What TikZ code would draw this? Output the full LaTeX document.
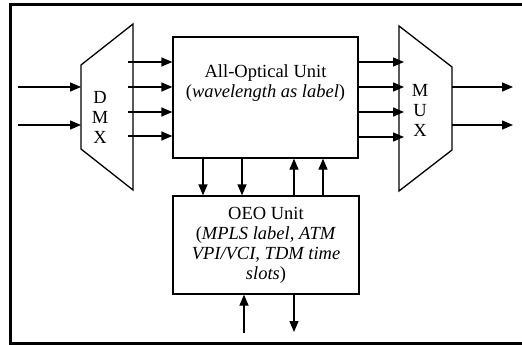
\documentclass[tikz,border=0pt]{standalone}
\usepackage{fontspec}
\setmainfont{Liberation Serif}
\usetikzlibrary{arrows.meta}
\tikzset{
	wire/.style={line width=1.3pt, -{Triangle[length=11pt, width=9pt]}},
	unitbox/.style={draw, line width=1.3pt, inner sep=0pt},
	txt/.style={align=center, font=\fontsize{18.5}{20}\selectfont},
}
\begin{document}
\begin{tikzpicture}[x=1pt, y=-1pt]
	\useasboundingbox (0,0) rectangle (522,345);
	% Frame:
	\draw[line width=3pt] (522,5) -- (10,5) -- (10,343) -- (522,343);
	% Units:
	\node[unitbox, minimum width=185pt, minimum height=121pt](opt) at (265.5, 97.5){};
	\node[txt](optlbl) at (265.5, 83){All-Optical Unit\\(\textit{wavelength as label})};
	\node[unitbox, txt, minimum width=186pt, minimum height=98pt](oeo) at (266, 245){OEO Unit\\(\textit{MPLS label, ATM}\\\textit{VPI/VCI, TDM time}\\\textit{slots})};
	% DMX and MUX:
	\draw[line width=1.3pt] (81, 65) -- (133, 24) -- (133, 190) -- (81, 149) -- cycle;
	\node[txt](dmx) at (100, 117){D\\M\\X};
	\draw[line width=1.3pt] (399, 26) -- (452, 67) -- (452, 150) -- (399, 191) -- cycle;
	\node[txt](mux) at (420, 110){M\\U\\X};
	\coordinate (dmxin) at (81, 0);
	\coordinate (dmxout) at (128, 0);
	\coordinate (muxin) at (404, 0);
	\coordinate (muxout) at (452, 0);
	% Wires:
	\draw[wire] (18, 87) -- (dmxin |- 0, 87);
	\draw[wire] (18, 125) -- (dmxin |- 0, 125);
	\draw[wire] (dmxout |- 0, 62) -- (opt.west |- 0, 62);
	\draw[wire] (dmxout |- 0, 87) -- (opt.west |- 0, 87);
	\draw[wire] (dmxout |- 0, 112) -- (opt.west |- 0, 112);
	\draw[wire] (dmxout |- 0, 136) -- (opt.west |- 0, 136);
	\draw[wire] (opt.east |- 0, 62) -- (muxin |- 0, 62);
	\draw[wire] (opt.east |- 0, 87) -- (muxin |- 0, 87);
	\draw[wire] (opt.east |- 0, 112) -- (muxin |- 0, 112);
	\draw[wire] (opt.east |- 0, 137) -- (muxin |- 0, 137);
	\draw[wire] (muxout |- 0, 87) -- (513, 87);
	\draw[wire] (muxout |- 0, 125) -- (513, 125);
	\draw[wire] (opt.south -| 203, 0) -- (oeo.north -| 203, 0);
	\draw[wire] (opt.south -| 242, 0) -- (oeo.north -| 242, 0);
	\draw[wire] (oeo.north -| 294, 0) -- (opt.south -| 294, 0);
	\draw[wire] (oeo.north -| 323, 0) -- (opt.south -| 323, 0);
	\draw[wire] (244, 333) -- (oeo.south -| 244, 0);
	\draw[wire] (oeo.south -| 294, 0) -- (294, 332);
\end{tikzpicture}
\end{document}
